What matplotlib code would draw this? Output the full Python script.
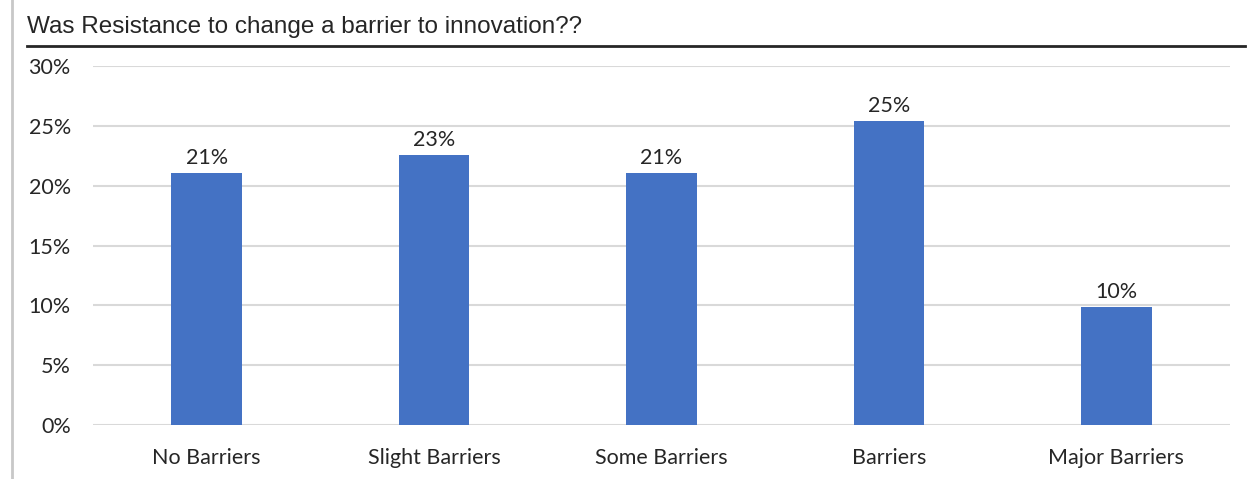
import matplotlib
matplotlib.use("Agg")
import matplotlib.pyplot as plt
from matplotlib.lines import Line2D
from matplotlib.ticker import PercentFormatter

categories = ["No Barriers", "Slight Barriers", "Some Barriers", "Barriers", "Major Barriers"]
shares = [0.211, 0.226, 0.211, 0.254, 0.099]
y_ticks = [0.0, 0.05, 0.10, 0.15, 0.20, 0.25, 0.30]
title = "Was Resistance to change a barrier to innovation??"

W, H = 1253, 479
fig = plt.figure(figsize=(W / 100, H / 100), dpi=100)
fig.patch.set_facecolor("white")

ax = fig.add_axes([93 / W, 1 - 425 / H, (1230 - 93) / W, (425 - 66) / H])

x = range(len(categories))
bars = ax.bar(x, shares, width=0.31, color="#4472C4", zorder=3)
ax.set_xlim(-0.5, len(categories) - 0.5)
ax.set_ylim(0, 0.30)
ax.set_yticks(y_ticks)
ax.yaxis.set_major_formatter(PercentFormatter(1.0, decimals=0))
ax.set_xticks(list(x))
ax.set_xticklabels(categories)

label_font = dict(family=["Lato", "DejaVu Sans"], size=15.5, color="#262626")
for lab in ax.get_xticklabels() + ax.get_yticklabels():
    lab.set_fontfamily(label_font["family"])
    lab.set_fontsize(label_font["size"])
    lab.set_color(label_font["color"])
ax.tick_params(axis="y", length=0, pad=16)
ax.tick_params(axis="x", length=0, pad=16.5)

ax.grid(axis="y", color="#d9d9d9", linewidth=1.5, zorder=0)
for side in ax.spines.values():
    side.set_visible(False)

for rect, v in zip(bars, shares):
    ax.annotate(f"{v * 100:.0f}%", (rect.get_x() + rect.get_width() / 2, v),
                xytext=(0, 3.5), textcoords="offset points",
                ha="center", va="bottom", **label_font)

fig.text(27 / W, 1 - 27 / H, title, ha="left", va="center",
         family=["Liberation Sans", "DejaVu Sans"], size=17.5, color="#262626")
fig.add_artist(Line2D([27 / W, 1245 / W], [1 - 46 / H] * 2,
                      transform=fig.transFigure, color="#262626", linewidth=2))
fig.add_artist(Line2D([12 / W, 12 / W], [0, 1],
                      transform=fig.transFigure, color="#c8c8c8", linewidth=2))

fig.savefig("out.png", dpi=100, facecolor="white")
